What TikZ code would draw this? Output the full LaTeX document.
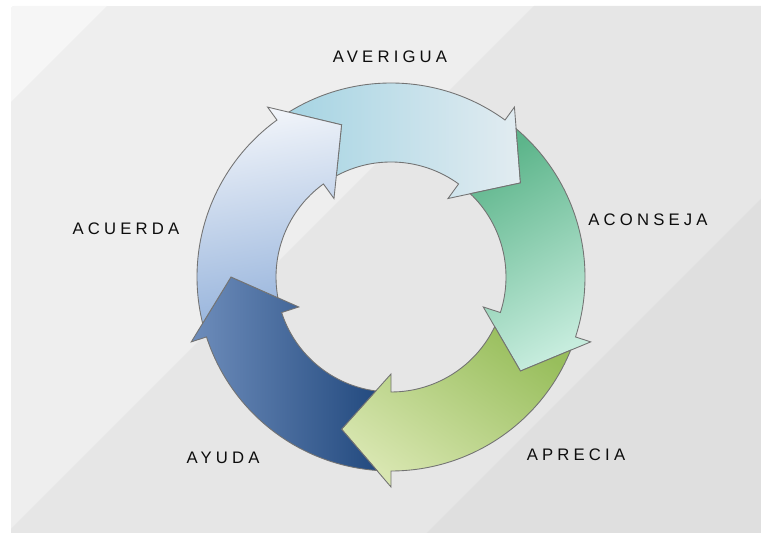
\documentclass[tikz,border=0pt]{standalone}
\usepackage{fontspec}
\usepackage{xcolor}
\newfontfamily\labelfont{Liberation Sans}[LetterSpace=25]

\definecolor{bgA}{HTML}{F6F6F6}
\definecolor{bgB}{HTML}{EEEEEE}
\definecolor{bgC}{HTML}{E6E6E6}
\definecolor{bgD}{HTML}{DFDFDF}
\definecolor{avA}{HTML}{A6D4E3}
\definecolor{avB}{HTML}{E2ECF1}
\definecolor{coA}{HTML}{5DB58B}
\definecolor{coB}{HTML}{C6ECDD}
\definecolor{apA}{HTML}{98BE5C}
\definecolor{apB}{HTML}{D8E6B0}
\definecolor{ayA}{HTML}{6E8DBB}
\definecolor{ayB}{HTML}{234A7F}
\definecolor{acA}{HTML}{F2F5FA}
\definecolor{acB}{HTML}{97B4DC}

\tikzset{
  cyclearrow/.style={draw=black!55, line width=0.5pt},
  steplabel/.style={font=\labelfont\fontsize{9.5}{11}\selectfont, text=black!95, inner sep=0pt}
}

\begin{document}
\begin{tikzpicture}[x=0.02cm, y=0.02cm]
  \useasboundingbox (0,0) rectangle (761,533);
  % Background panel
  \begin{scope}
    \clip (11,-3) -- (11,524) arc[start angle=180, end angle=90, radius=3] -- (764,527) -- (764,-3) -- cycle;
    \fill[bgB] (11,-3) rectangle (764,527);
    \fill[bgA] (11,527) -- (107,527) -- (11,431) -- cycle;
    \fill[bgC] (534,527) -- (764,527) -- (764,337) -- (424,-3) -- (11,-3) -- (11,4) -- cycle;
    \fill[bgD] (764,337) -- (764,-3) -- (424,-3) -- cycle;
  \end{scope}
  % Arrows (head base angle / colours / shading angle)
  \foreach \b/\ca/\cb/\sa in {54/avA/avB/90, -18/coA/coB/30, -90/apA/apB/-35, -162/ayA/ayB/90, 126/acA/acB/10} {
    \shadedraw[cyclearrow, shift={(391,256)}, top color=\ca, bottom color=\cb, shading angle=\sa]
      ({\b+67.83}:194) arc[start angle=\b+67.83, end angle=\b, radius=194]
      -- (\b:210) -- ({\b-18}:160) -- (\b:97) -- (\b:115)
      arc[start angle=\b, end angle=\b+64.4, radius=115]
      -- ({\b+54}:160) -- cycle;
  }
  % Labels
  \node[steplabel] (averigua) at (390,476) {AVERIGUA};
  \node[steplabel] (aconseja) at (648,313) {ACONSEJA};
  \node[steplabel] (aprecia) at (576,78) {APRECIA};
  \node[steplabel] (ayuda) at (223,75) {AYUDA};
  \node[steplabel] (acuerda) at (126,304) {ACUERDA};
\end{tikzpicture}
\end{document}
